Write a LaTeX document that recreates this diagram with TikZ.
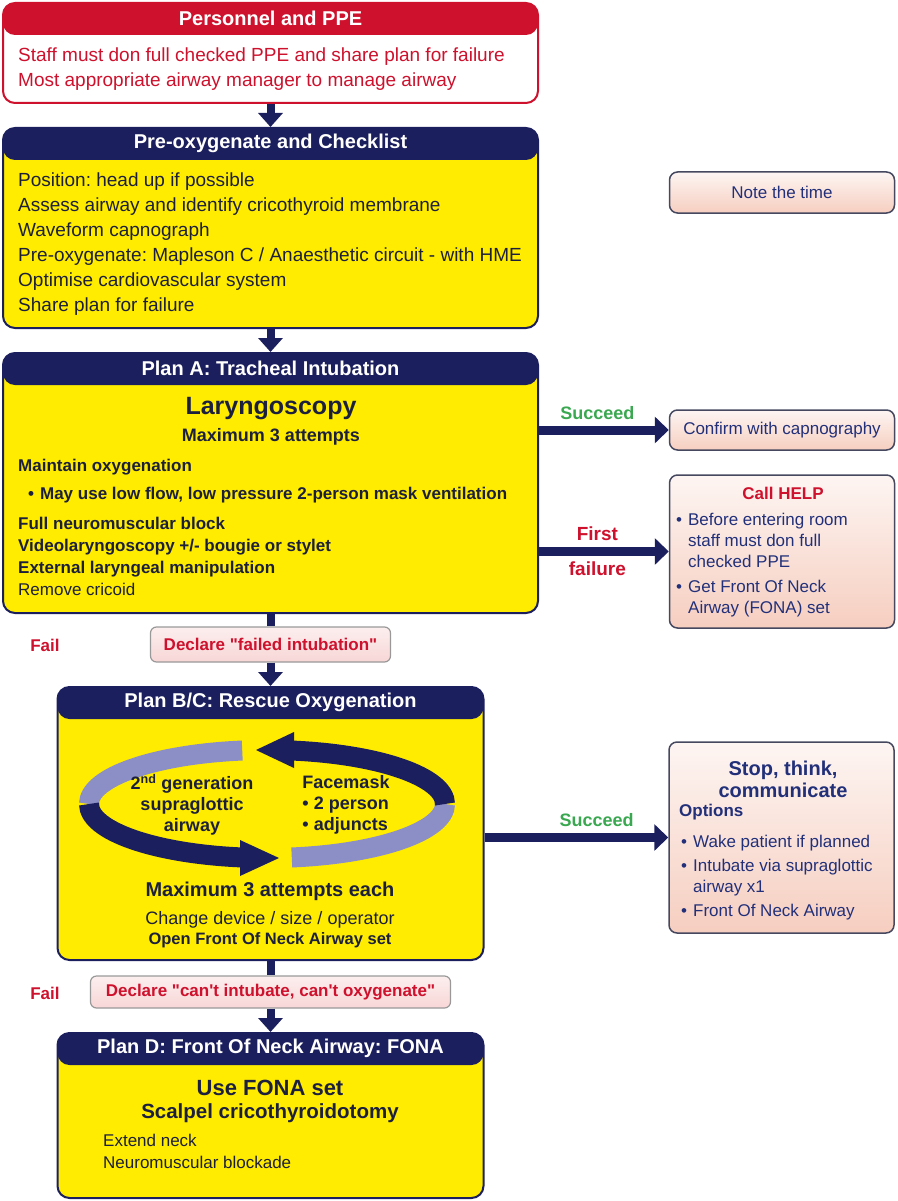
\documentclass[tikz,border=0pt]{standalone}
\usepackage{fontspec}
\setmainfont{Liberation Sans}[Ligatures=TeXOff]
\usetikzlibrary{positioning}
\usetikzlibrary{arrows.meta}
\definecolor{navy}{RGB}{28,31,94}
\definecolor{ylw}{RGB}{255,236,0}
\definecolor{alarm}{RGB}{206,17,45}
\definecolor{okgreen}{RGB}{58,168,80}
\definecolor{ink}{RGB}{28,32,62}
\definecolor{rink}{RGB}{34,48,122}
\definecolor{lilac}{RGB}{140,142,198}
\definecolor{peach}{RGB}{246,206,192}
\definecolor{blush}{RGB}{248,214,214}
\definecolor{edge}{RGB}{70,72,96}
\frenchspacing

\begin{document}
\begin{tikzpicture}[x=1pt, y=-1pt,
		panel/.style = {rectangle, rounded corners=12pt, line width=2pt, inner sep=0pt, draw=#1,
			path picture={\fill[#1] (path picture bounding box.north west) rectangle ([yshift=-32pt]path picture bounding box.north east);}},
		head/.style = {text=white, inner sep=0pt, font=\bfseries\fontsize{20}{22}\selectfont},
		txt/.style  = {text=ink, align=left, anchor=north west, inner sep=0pt, font=\fontsize{19}{25}\selectfont},
		btxt/.style = {text=ink, inner sep=0pt, font=\bfseries\fontsize{17}{22}\selectfont},
		list/.style = {anchor=north west, inner sep=0pt, text=rink, font=\fontsize{17}{21}\selectfont},
		note/.style = {rectangle, rounded corners=8pt, draw=edge, line width=1.5pt, top color=white!80!peach, bottom color=peach,
			text=rink, inner sep=0pt, minimum width=225pt, font=\fontsize{17}{21}\selectfont},
		call/.style = {rectangle, rounded corners=6pt, draw=gray!80, line width=1.2pt, top color=white!60!blush, bottom color=blush,
			text=alarm, inner sep=0pt, font=\bfseries\fontsize{17}{20}\selectfont},
		tag/.style  = {inner sep=0pt, font=\bfseries\fontsize{18}{20}\selectfont},
		link/.style = {navy, line width=8pt},
		go/.style   = {link, -{Triangle[width=24pt, length=14pt]}},
		side/.style = {navy, line width=9pt, -{Triangle[width=26pt, length=14pt]}}
		]
		\useasboundingbox (0,0) rectangle (897,1201);
		
		%Nodes
		\node[panel=alarm, fill=white, minimum width=535pt, minimum height=100pt]	(ppe)	at (270.5,53)	{};
		\node[head]	(ppeh)	at ([yshift=-16pt]ppe.north)	{Personnel and PPE};
		\node[txt, text=alarm]	(ppet)	at (18,48)	{Staff must don full checked PPE and share plan for failure\\Most appropriate airway manager to manage airway};
		
		\node[panel=navy, fill=ylw, minimum width=535pt, minimum height=200pt]	(checks)	at (270.5,228)	{};
		\node[head]	(checksh)	at ([yshift=-16pt]checks.north)	{Pre-oxygenate and Checklist};
		\node[txt]	(checkst)	at (18,173)	{Position: head up if possible\\Assess airway and identify cricothyroid membrane\\Waveform capnograph\\Pre-oxygenate: Mapleson C / Anaesthetic circuit - with HME\\Optimise cardiovascular system\\Share plan for failure};
		
		\node[panel=navy, fill=ylw, minimum width=535pt, minimum height=260pt]	(plana)	at (270.5,483)	{};
		\node[head]	(planah)	at ([yshift=-16pt]plana.north)	{Plan A: Tracheal Intubation};
		\node[btxt, font=\bfseries\fontsize{25}{28}\selectfont]	(laryn)	at (271,409)	{Laryngoscopy};
		\node[btxt, font=\bfseries\fontsize{18}{20}\selectfont]	(max3)	at (271,437)	{Maximum 3 attempts};
		\node[btxt, anchor=west]	(oxy)	at (18,467)	{Maintain oxygenation};
		\node[btxt, anchor=west]	(mask)	at (28,495)	{\textbullet\hspace{6pt}May use low flow, low pressure 2-person mask ventilation};
		\node[btxt, anchor=north west, align=left]	(block)	at (18,517)	{Full neuromuscular block\\Videolaryngoscopy +/- bougie or stylet\\External laryngeal manipulation};
		\node[txt, anchor=west, font=\fontsize{17}{22}\selectfont]	(cric)	at (18,589)	{Remove cricoid};
		
		\node[note, minimum height=41pt]	(time)	at (782,192.5)	{Note the time};
		\node[note, minimum height=40pt]	(capno)	at (782,430)	{Confirm with capnography};
		\node[note, minimum height=153pt]	(help)	at (782,551.5)	{};
		\node[tag, text=alarm, font=\bfseries\fontsize{17}{20}\selectfont]	(helpt)	at (783,493)	{Call HELP};
		\node[list]	(helpl)	at (676,511)	{\begin{tabular}{@{}l@{\hspace{6pt}}l@{}}
			\textbullet & Before entering room\\ & staff must don full\\ & checked PPE\\[4pt]
			\textbullet & Get Front Of Neck\\ & Airway (FONA) set\end{tabular}};
		
		\node[call, minimum width=240pt, minimum height=35pt]	(fail1)	at (270.5,644.5)	{Declare "failed intubation"};
		\node[tag, text=alarm, font=\bfseries\fontsize{17}{20}\selectfont]	(failA)	at (45,645)	{Fail};
		
		\node[panel=navy, fill=ylw, minimum width=426pt, minimum height=273pt]	(planbc)	at (270.5,823.5)	{};
		\node[head]	(planbch)	at ([yshift=-16pt]planbc.north)	{Plan B/C: Rescue Oxygenation};
		
		%Cycle
		\draw[lilac, line width=20pt] (267,804) ++(262:178 and 54) arc[start angle=262, end angle=180, x radius=178, y radius=54];
		\draw[navy, line width=20pt] (267,804) ++(180:178 and 54) arc[start angle=180, end angle=98, x radius=178, y radius=54];
		\fill[navy] (240,840) -- (279,858) -- (240,876) -- cycle;
		\draw[lilac, line width=20pt] (267,804) ++(82:178 and 54) arc[start angle=82, end angle=0, x radius=178, y radius=54];
		\draw[navy, line width=20pt] (267,804) ++(0:178 and 54) arc[start angle=0, end angle=-82, x radius=178, y radius=54];
		\fill[navy] (294,732) -- (256,750) -- (294,768) -- cycle;
		
		\node[btxt, align=center, font=\bfseries\fontsize{18}{21}\selectfont]	(sga)	at (192,805)	{2\textsuperscript{nd} generation\\supraglottic\\airway};
		\node[btxt, align=left, font=\bfseries\fontsize{18}{21}\selectfont]	(face)	at (346,805)	{Facemask\\\textbullet\ 2 person\\\textbullet\ adjuncts};
		\node[btxt, font=\bfseries\fontsize{20}{22}\selectfont]	(max3e)	at (270,891)	{Maximum 3 attempts each};
		\node[btxt, font=\fontsize{18}{20}\selectfont]	(change)	at (270,920)	{Change device / size / operator};
		\node[btxt, font=\bfseries\fontsize{16.5}{20}\selectfont]	(fonaset)	at (270,940)	{Open Front Of Neck Airway set};
		
		\node[note, minimum height=191pt]	(stop)	at (781.5,837.5)	{};
		\node[tag, text=rink, align=center, font=\bfseries\fontsize{20}{22}\selectfont]	(stopt)	at (783,779)	{Stop, think,\\communicate};
		\node[tag, text=rink, anchor=west, font=\bfseries\fontsize{17}{20}\selectfont]	(opts)	at (679,812)	{Options};
		\node[list]	(stopl)	at (681,833)	{\begin{tabular}{@{}l@{\hspace{6pt}}l@{}}
			\textbullet & Wake patient if planned\\[3pt]
			\textbullet & Intubate via supraglottic\\ & airway x1\\[3pt]
			\textbullet & Front Of Neck Airway\end{tabular}};
		
		\node[call, minimum width=360pt, minimum height=32pt]	(fail2)	at (270.5,992)	{Declare "can't intubate, can't oxygenate"};
		\node[tag, text=alarm, font=\bfseries\fontsize{17}{20}\selectfont]	(failB)	at (45,993)	{Fail};
		
		\node[panel=navy, fill=ylw, minimum width=426pt, minimum height=165pt]	(pland)	at (270.5,1115.5)	{};
		\node[head]	(plandh)	at ([yshift=-16pt]pland.north)	{Plan D: Front Of Neck Airway: FONA};
		\node[btxt, font=\bfseries\fontsize{22}{24}\selectfont]	(usefona)	at (270,1088)	{Use FONA set};
		\node[btxt, font=\bfseries\fontsize{20.5}{24}\selectfont]	(scalpel)	at (270,1113)	{Scalpel cricothyroidotomy};
		\node[txt, font=\fontsize{17}{22}\selectfont]	(neck)	at (103,1134)	{Extend neck\\Neuromuscular blockade};
		
		%Lines
		\draw[go]	(ppe)	--	(checks);
		\draw[go]	(checks)	--	(plana);
		\draw[link]	(plana)	--	(fail1);
		\draw[go]	(fail1)	--	(planbc);
		\draw[link]	(planbc)	--	(fail2);
		\draw[go]	(fail2)	--	(pland);
		\draw[side]	(plana.east |- capno.west)	--	node[pos=0.45, tag, text=okgreen, above=6pt] (succA) {Succeed} (capno.west);
		\draw[side]	(plana.east |- help.west)	--	node[pos=0.45, tag, text=alarm, above=6pt, font=\bfseries\fontsize{19}{20}\selectfont] (first) {First}
			node[pos=0.45, tag, text=alarm, below=6pt, font=\bfseries\fontsize{19}{20}\selectfont] (failure) {failure} (help.west);
		\draw[side]	(planbc.east |- stop.west)	--	node[pos=0.61, tag, text=okgreen, above=6pt] (succB) {Succeed} (stop.west);
	\end{tikzpicture}
\end{document}
